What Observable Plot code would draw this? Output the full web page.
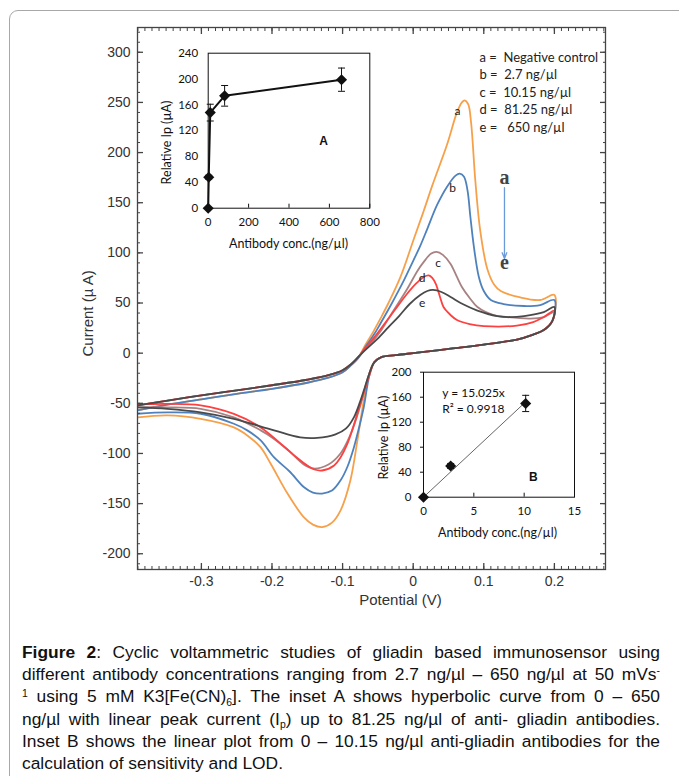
<!DOCTYPE html>
<html><head><meta charset="utf-8">
<script src="https://cdn.jsdelivr.net/npm/d3@7"></script>
<script src="https://cdn.jsdelivr.net/npm/@observablehq/plot@0.6"></script>
<style>
html,body{margin:0;padding:0;background:#fff;}
body{width:679px;height:776px;overflow:hidden;position:relative;font-family:"Liberation Sans",Arial,sans-serif;}
#border{position:absolute;left:9px;top:10px;width:720px;height:820px;border:1px solid #a8a8a8;border-radius:9px;box-sizing:border-box;}
#main{position:absolute;left:0;top:0;}
#insetA{position:absolute;left:140px;top:40px;}
#insetB{position:absolute;left:360px;top:360px;}
#caption{position:absolute;left:22px;top:641px;width:638px;font-size:17.4px;color:#111;}
#caption div{line-height:22.2px;height:22.2px;text-align:justify;text-align-last:justify;white-space:nowrap;}
#caption div.last{text-align:left;text-align-last:left;}
#caption sup,#caption sub{font-size:0.6em;line-height:0;position:relative;vertical-align:baseline;}
#caption sup{top:-0.55em;}
#caption sub{top:0.3em;}
</style>
</head><body>
<div id="border"></div>
<div id="main"></div>
<div id="insetA"></div>
<div id="insetB"></div>
<div id="caption">
<div><b>Figure 2</b>: Cyclic voltammetric studies of gliadin based immunosensor using</div>
<div>different antibody concentrations ranging from 2.7 ng/µl – 650 ng/µl at 50 mVs<sup>-</sup></div>
<div><sup>1</sup> using 5 mM K3[Fe(CN)<sub>6</sub>]. The inset A shows hyperbolic curve from 0 – 650</div>
<div>ng/µl with linear peak current (I<sub>p</sub>) up to 81.25 ng/µl of anti- gliadin antibodies.</div>
<div>Inset B shows the linear plot from 0 – 10.15 ng/µl anti-gliadin antibodies for the</div>
<div class="last">calculation of sensitivity and LOD.</div>
</div>
<script>
// ---------- Main CV data: [potential (V), current (µA)] in sweep order ----------
const curveA = [[-0.3905,-57],[-0.35,-51.5],[-0.3,-46],[-0.25,-40.5],[-0.2,-35.5],[-0.15,-29.5],[-0.12,-24.5],[-0.1,-19],[-0.088,-12],[-0.078,-5],
  [-0.068,8],[-0.056,22],[-0.046,35],[-0.035,50],[-0.018,76],[0.001,114],[0.015,142],[0.027,167],[0.048,208],[0.062,240],[0.069,250],[0.073,252],[0.078,248],[0.082,230],[0.088,172],[0.095,122],[0.105,84],[0.115,68],[0.124,62],[0.152,55.5],[0.18,53],[0.2,58],
  [0.197,32],[0.185,23],[0.17,18.5],[0.147,13.5],[0.1,8.5],[0.053,4.5],[0.006,0.5],[-0.025,-2],[-0.045,-4],
  [-0.055,-9],[-0.062,-20],[-0.07,-47],[-0.079,-87],[-0.089,-127],[-0.103,-157],[-0.115,-169],[-0.129,-173.5],[-0.142,-171],[-0.155,-163.5],[-0.178,-140],[-0.202,-110],[-0.216,-94],[-0.235,-82],[-0.254,-74],[-0.301,-65.5],[-0.348,-62],[-0.3905,-64]];
const curveB = [[-0.3905,-57],[-0.35,-51.5],[-0.3,-46],[-0.25,-40.5],[-0.2,-35.5],[-0.15,-29.5],[-0.12,-24.5],[-0.1,-19],[-0.088,-12],[-0.078,-5],
  [-0.068,6],[-0.056,18],[-0.046,30],[-0.03,50],[-0.015,70],[0.0,92],[0.01,107],[0.02,124],[0.034,148],[0.048,166],[0.06,177],[0.066,179],[0.072,176],[0.077,162],[0.081,136],[0.086,106],[0.093,76],[0.1,62],[0.11,53],[0.128,49],[0.157,47],[0.18,48],[0.2,53],
  [0.197,32],[0.185,23],[0.17,18.5],[0.147,13.5],[0.1,8.5],[0.053,4.5],[0.006,0.5],[-0.025,-2],[-0.045,-4],
  [-0.055,-9],[-0.062,-22],[-0.07,-54],[-0.077,-75],[-0.084,-94],[-0.093,-113],[-0.103,-127],[-0.115,-137],[-0.129,-140],[-0.142,-139],[-0.155,-133.5],[-0.175,-118],[-0.197,-104],[-0.216,-87],[-0.235,-77],[-0.254,-70.4],[-0.301,-60.4],[-0.348,-59],[-0.3905,-60.4]];
const curveC = [[-0.3905,-52],[-0.35,-47.5],[-0.3,-42],[-0.25,-37],[-0.2,-32],[-0.15,-26.5],[-0.12,-22],[-0.1,-17],[-0.088,-11],[-0.078,-4],
  [-0.068,4],[-0.056,13],[-0.046,22],[-0.03,40],[-0.0085,64],[0.006,82],[0.015,91],[0.025,99],[0.033,101],[0.042,98],[0.053,89],[0.062,76],[0.069,66],[0.08,55],[0.091,46],[0.114,38],[0.133,36],[0.166,34.5],[0.185,36],[0.2,41],
  [0.197,32],[0.185,23],[0.17,18.5],[0.147,13.5],[0.1,8.5],[0.053,4.5],[0.006,0.5],[-0.025,-2],[-0.045,-4],
  [-0.055,-9],[-0.063,-22],[-0.072,-45],[-0.08,-64],[-0.09,-83],[-0.103,-100],[-0.12,-111],[-0.141,-115],[-0.155,-111],[-0.175,-98],[-0.2,-84],[-0.216,-77],[-0.254,-64],[-0.301,-55.5],[-0.348,-54],[-0.3905,-54]];
const curveD = [[-0.3905,-52],[-0.35,-47.5],[-0.3,-42],[-0.25,-37],[-0.2,-32],[-0.15,-26.5],[-0.12,-22],[-0.1,-17],[-0.088,-11],[-0.078,-4],
  [-0.068,5],[-0.056,15],[-0.042,28],[-0.025,44],[-0.01,58],[0.005,70],[0.015,76],[0.022,77.5],[0.027,75],[0.032,69],[0.038,56],[0.043,46],[0.053,38],[0.062,33],[0.08,29],[0.1,27],[0.147,27.5],[0.17,31],[0.185,36],[0.2,42.5],
  [0.197,32],[0.185,23],[0.17,18.5],[0.147,13.5],[0.1,8.5],[0.053,4.5],[0.006,0.5],[-0.025,-2],[-0.045,-4],
  [-0.055,-9],[-0.062,-22],[-0.072,-44],[-0.079,-60],[-0.086,-76],[-0.093,-90],[-0.103,-104],[-0.112,-112],[-0.129,-117],[-0.14,-116],[-0.15,-112],[-0.165,-104],[-0.183,-93],[-0.216,-74],[-0.254,-60.5],[-0.301,-52],[-0.348,-50.5],[-0.3905,-51]];
const curveE = [[-0.3905,-52],[-0.35,-47.5],[-0.3,-42],[-0.25,-37],[-0.2,-32],[-0.15,-26.5],[-0.12,-22],[-0.1,-17],[-0.088,-11],[-0.078,-4],
  [-0.068,3],[-0.051,14],[-0.035,26],[-0.02,37],[-0.005,49],[0.01,58],[0.02,62],[0.028,63],[0.04,61],[0.053,56],[0.07,49],[0.091,42.5],[0.119,37],[0.138,36],[0.157,37],[0.185,41],[0.2,46],
  [0.197,32],[0.185,23],[0.17,18.5],[0.147,13.5],[0.1,8.5],[0.053,4.5],[0.006,0.5],[-0.025,-2],[-0.045,-4],
  [-0.055,-9],[-0.062,-20],[-0.068,-33],[-0.075,-48],[-0.084,-64],[-0.095,-75],[-0.11,-81],[-0.136,-84.5],[-0.16,-84],[-0.197,-77],[-0.254,-65.5],[-0.301,-59],[-0.348,-55.5],[-0.3905,-54]];
const curveIds = ["a","b","c","d","e"];
const curveColors = ["#f7a04a","#4f82bd","#a88282","#ff4040","#4a4a4a"];
const legendLabels = ["a =\u00a0 Negative control","b =\u00a0 2.7 ng/µl","c =\u00a0 10.15 ng/µl","d =\u00a0 81.25 ng/µl","e =\u00a0\u00a0 650 ng/µl"];
const xTicks = [-0.3,-0.2,-0.1,0,0.1,0.2];
const yTicks = [-200,-150,-100,-50,0,50,100,150,200,250,300];

// ---------- Inset A ----------
const concA = [0, 2.7, 10.15, 81.25, 660];
const ipA = [0, 48, 148, 174, 199];
const errA = [0, 3, 13, 16, 18];
const xTicksA = [0,200,400,600,800];
const yTicksA = [0,40,80,120,160,200,240];
// ---------- Inset B ----------
const concB = [0, 2.7, 10.15];
const ipB = [0, 50, 150];
const errB = [0, 4, 13];
const slopeB = 15.025;
const r2B = 0.9918;
const xTicksB = [0,5,10,15];
const yTicksB = [0,40,80,120,160,200];

const curves = [curveA,curveB,curveC,curveD,curveE];
const xMinor = d3.range(-39, 28).map(i => i/100);
const yMinor = d3.range(-21, 33).map(i => i*10);
const fmtX = d => d === 0 ? "0" : d.toFixed(1);
const blank = () => "";
const ink = "#333";

const capSymbol = {draw(ctx, size){ const w = Math.sqrt(size/Math.PI); ctx.moveTo(-w,0); ctx.lineTo(w,0); }};

const main = Plot.plot({
  width: 679, height: 615,
  marginLeft: 137, marginRight: 74, marginTop: 27, marginBottom: 46,
  style: {fontFamily: "'Liberation Sans', Arial, sans-serif", fontSize: "14px", color: ink, background: "transparent"},
  x: {domain: [-0.3905, 0.2724]},
  y: {domain: [-215.7, 324.7]},
  marks: [
    ...curves.map((c, i) => Plot.line(c, {x: d => d[0], y: d => d[1], stroke: curveColors[i], strokeWidth: 1.8, curve: "catmull-rom", clip: true})),
    Plot.frame({stroke: "#444", strokeWidth: 1.3}),
    Plot.axisX(xMinor, {anchor: "bottom", tickSize: -3, tickFormat: blank, label: null, stroke: "#444"}),
    Plot.axisX(xMinor, {anchor: "top", tickSize: -3, tickFormat: blank, label: null, stroke: "#444"}),
    Plot.axisY(yMinor, {anchor: "left", tickSize: -3, tickFormat: blank, label: null, stroke: "#444"}),
    Plot.axisY(yMinor, {anchor: "right", tickSize: -3, tickFormat: blank, label: null, stroke: "#444"}),
    Plot.axisX(xTicks, {anchor: "bottom", tickSize: -6, tickFormat: blank, label: null, stroke: "#444", strokeWidth: 1.3}),
    Plot.axisX(xTicks, {anchor: "top", tickSize: -6, tickFormat: blank, label: null, stroke: "#444", strokeWidth: 1.3}),
    Plot.axisY(yTicks, {anchor: "left", tickSize: -6, tickFormat: blank, label: null, stroke: "#444", strokeWidth: 1.3}),
    Plot.axisY(yTicks, {anchor: "right", tickSize: -6, tickFormat: blank, label: null, stroke: "#444", strokeWidth: 1.3}),
    Plot.axisX(xTicks, {anchor: "bottom", tickSize: 0, tickPadding: 7, tickFormat: fmtX, label: null, fontSize: 14, fill: ink}),
    Plot.axisY(yTicks, {anchor: "left", tickSize: 0, tickPadding: 7, tickFormat: d => String(d), label: null, fontSize: 14, fill: ink}),
    Plot.text(["Current (µ A)"], {x: -0.46, y: 39.6, text: d => d, rotate: -90, fontSize: 15, fill: ink}),
    Plot.text(["Potential (V)"], {x: -0.018, y: -246.6, text: d => d, fontSize: 15, fill: ink}),
    Plot.text(legendLabels, {x: 0.0939, y: (d, i) => 294.8 - i*17.5, text: d => d, textAnchor: "start", fontFamily: "Lato", fontSize: 13, fill: "#222"}),
    Plot.text(curveIds, {x: [0.0628, 0.0557, 0.0354, 0.0127, 0.0127], y: [240.8, 165, 89.4, 74.5, 49.6], text: d => d, fontFamily: "Lato", fontSize: 12, fill: "#222"}),
    Plot.arrow([0], {x1: 0.1293, y1: 165, x2: 0.1293, y2: 94.5, stroke: "#6a9bd8", strokeWidth: 1.3, headLength: 7, headAngle: 45}),
    Plot.text([curveIds[0], curveIds[4]], {x: 0.1293, y: [175, 90], text: d => d, fontFamily: "'Liberation Serif', serif", fontSize: 20, fontWeight: "bold", fill: "#444"})
  ]
});
document.getElementById("main").appendChild(main);

const rowsA = concA.map((c, i) => ({c, v: ipA[i], lo: ipA[i] - errA[i], hi: ipA[i] + errA[i], e: errA[i]}));
const insetA = Plot.plot({
  width: 240, height: 213,
  marginLeft: 67.7, marginRight: 10.7, marginTop: 12.7, marginBottom: 45.3,
  style: {fontFamily: "Lato, sans-serif", fontSize: "11.5px", color: "#111", background: "transparent"},
  x: {domain: [0, 800]},
  y: {domain: [0, 240]},
  marks: [
    Plot.frame({fill: "white", stroke: "#111", strokeWidth: 1}),
    Plot.axisX(xTicksA, {anchor: "bottom", tickSize: -4, tickFormat: blank, label: null}),
    Plot.axisX(xTicksA, {anchor: "bottom", tickSize: 0, tickPadding: 10, label: null, fill: "#111"}),
    Plot.axisY(yTicksA, {anchor: "left", tickSize: 0, tickPadding: 10, label: null, fill: "#111"}),
    Plot.line(rowsA, {x: "c", y: "v", stroke: "#111", strokeWidth: 2}),
    Plot.ruleX(rowsA.filter(d => d.e > 0), {x: "c", y1: "lo", y2: "hi", stroke: "#111", strokeWidth: 1}),
    Plot.dot(rowsA.filter(d => d.e > 0), {x: "c", y: "hi", symbol: capSymbol, r: 3.5, stroke: "#111", strokeWidth: 1}),
    Plot.dot(rowsA.filter(d => d.e > 0), {x: "c", y: "lo", symbol: capSymbol, r: 3.5, stroke: "#111", strokeWidth: 1}),
    Plot.dot(rowsA, {x: "c", y: "v", symbol: "diamond2", r: 5, fill: "#111"}),
    Plot.text(["A"], {x: 571, y: 103.3, text: d => d, fontFamily: "'Liberation Sans', Arial", fontWeight: "bold", fontSize: 12, fill: "#111"}),
    Plot.text(["Relative Ip (µA)"], {x: -203, y: 101.7, text: d => d, rotate: -90, fontSize: 12.5, fill: "#111"}),
    Plot.text(["Antibody conc.(ng/µl)"], {x: 397.5, y: -56.2, text: d => d, fontSize: 12.5, fill: "#111"})
  ]
});
document.getElementById("insetA").appendChild(insetA);

const rowsB = concB.map((c, i) => ({c, v: ipB[i], lo: ipB[i] - errB[i], hi: ipB[i] + errB[i], e: errB[i]}));
const fitB = [0, concB[concB.length - 1]].map(c => ({c, v: slopeB * c}));
const insetB = Plot.plot({
  width: 224, height: 187,
  marginLeft: 63, marginRight: 10, marginTop: 11.7, marginBottom: 50.3,
  style: {fontFamily: "Lato, sans-serif", fontSize: "11.5px", color: "#111", background: "transparent"},
  x: {domain: [0, 15]},
  y: {domain: [0, 200]},
  marks: [
    Plot.frame({fill: "white", stroke: "#111", strokeWidth: 1}),
    Plot.axisX(xTicksB, {anchor: "bottom", tickSize: -4, tickFormat: blank, label: null}),
    Plot.axisY(yTicksB, {anchor: "left", tickSize: 3, tickFormat: blank, label: null}),
    Plot.axisX(xTicksB, {anchor: "bottom", tickSize: 0, tickPadding: 10, label: null, fill: "#111"}),
    Plot.axisY(yTicksB, {anchor: "left", tickSize: 0, tickPadding: 12, label: null, fill: "#111"}),
    Plot.line(fitB, {x: "c", y: "v", stroke: "#666", strokeWidth: 1}),
    Plot.ruleX(rowsB.filter(d => d.e > 0), {x: "c", y1: "lo", y2: "hi", stroke: "#111", strokeWidth: 1}),
    Plot.dot(rowsB.filter(d => d.e > 0), {x: "c", y: "hi", symbol: capSymbol, r: 3.5, stroke: "#111", strokeWidth: 1}),
    Plot.dot(rowsB.filter(d => d.e > 0), {x: "c", y: "lo", symbol: capSymbol, r: 3.5, stroke: "#111", strokeWidth: 1}),
    Plot.dot(rowsB, {x: "c", y: "v", symbol: "diamond2", r: 5, fill: "#111"}),
    Plot.text([`y = ${slopeB}x`, `R² = ${r2B}`], {x: 1.86, y: [166, 140.3], text: d => d, textAnchor: "start", fontSize: 12, fill: "#111"}),
    Plot.text(["B"], {x: 10.92, y: 31.5, text: d => d, fontFamily: "'Liberation Sans', Arial", fontWeight: "bold", fontSize: 12, fill: "#111"}),
    Plot.text(["Relative Ip (µA)"], {x: -3.97, y: 95.5, text: d => d, rotate: -90, fontSize: 12.5, fill: "#111"}),
    Plot.text(["Antibody conc.(ng/µl)"], {x: 7.35, y: -58, text: d => d, fontSize: 12.5, fill: "#111"})
  ]
});
document.getElementById("insetB").appendChild(insetB);
</script>
</body></html>
